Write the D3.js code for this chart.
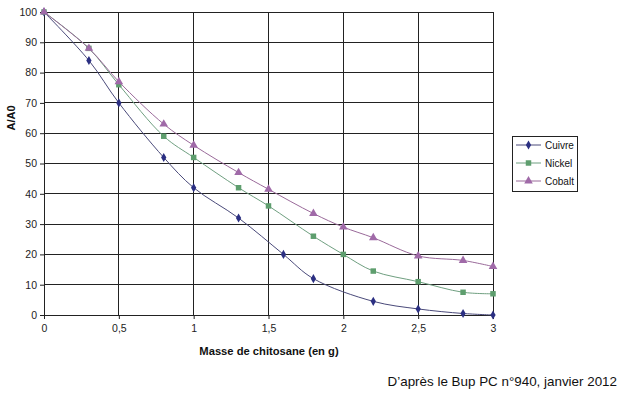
<!DOCTYPE html>
<html><head><meta charset="utf-8">
<script src="https://cdn.jsdelivr.net/npm/d3@7"></script>
<style>body{margin:0;background:#fff;font-family:"Liberation Sans",Arial,sans-serif}</style>
</head><body><svg id="c" width="624" height="393"></svg>
<script>
const xCuivre=[0,0.3,0.5,0.8,1,1.3,1.6,1.8,2.2,2.5,2.8,3];
const yCuivre=[100,84,70,52,42,32,20,12,4.5,2,0.5,0];
const xNickel=[0,0.3,0.5,0.8,1,1.3,1.5,1.8,2,2.2,2.5,2.8,3];
const yNickel=[100,88,76,59,52,42,36,26,20,14.5,11,7.5,7];
const xCobalt=[0,0.3,0.5,0.8,1,1.3,1.5,1.8,2,2.2,2.5,2.8,3];
const yCobalt=[100,88,77,63,56,47,41.5,33.5,29,25.5,19.5,18,16];
const xTicks=[0,0.5,1,1.5,2,2.5,3];
const xTickLabels=["0","0,5","1","1,5","2","2,5","3"];
const yTicks=[0,10,20,30,40,50,60,70,80,90,100];
const seriesNames=["Cuivre","Nickel","Cobalt"];

const svg=d3.select("#c");
const L=44,R=493,T=12,B=315;
const x=d3.scaleLinear().domain([0,3]).range([L,R]);
const y=d3.scaleLinear().domain([0,100]).range([B,T]);

// grid
svg.append("g").selectAll("line").data(yTicks).join("line")
 .attr("x1",L).attr("x2",R).attr("y1",d=>y(d)).attr("y2",d=>y(d))
 .attr("stroke","#222").attr("stroke-width",1).attr("shape-rendering","crispEdges");
svg.append("g").selectAll("line").data(xTicks).join("line")
 .attr("y1",T).attr("y2",B).attr("x1",d=>x(d)).attr("x2",d=>x(d))
 .attr("stroke","#222").attr("stroke-width",1).attr("shape-rendering","crispEdges");

const ax=svg.append("g").attr("transform",`translate(0,${B})`)
 .call(d3.axisBottom(x).tickValues(xTicks).tickFormat((d,i)=>xTickLabels[i]).tickSize(4).tickPadding(6));
const ay=svg.append("g").attr("transform",`translate(${L},0)`)
 .call(d3.axisLeft(y).tickValues(yTicks).tickSize(4).tickPadding(3));
[ax,ay].forEach(a=>{a.select(".domain").attr("stroke","#222");a.selectAll(".tick line").attr("stroke","#222");
 a.selectAll("text").attr("font-family","Liberation Sans, Arial, sans-serif").attr("font-size",10.5).attr("fill","#222");});

const series=[
 {name:seriesNames[0],xs:xCuivre,ys:yCuivre,line:"#4a4a7a",fill:"#2b2f82",shape:d3.symbolDiamond,size:24},
 {name:seriesNames[1],xs:xNickel,ys:yNickel,line:"#6f9f80",fill:"#5e9e6e",shape:d3.symbolSquare,size:30},
 {name:seriesNames[2],xs:xCobalt,ys:yCobalt,line:"#9a6a9a",fill:"#a06aa8",shape:d3.symbolTriangle,size:32}
];
const line=d3.line().x(d=>x(d[0])).y(d=>y(d[1])).curve(d3.curveCatmullRom.alpha(0.5));
series.forEach(s=>{
 const pts=s.xs.map((v,i)=>[v,s.ys[i]]);
 svg.append("path").datum(pts).attr("d",line).attr("fill","none").attr("stroke",s.line).attr("stroke-width",1);
 svg.append("g").selectAll("path").data(pts).join("path")
  .attr("d",d3.symbol().type(s.shape).size(s.size))
  .attr("transform",d=>`translate(${x(d[0])},${y(d[1])})`).attr("fill",s.fill);
});

// legend
const lg=svg.append("g");
lg.append("rect").attr("x",512.5).attr("y",136.5).attr("width",65).attr("height",55).attr("fill","#fff").attr("stroke","#222");
series.forEach((s,i)=>{
 const yy=145+i*18;
 lg.append("line").attr("x1",516).attr("x2",541).attr("y1",yy).attr("y2",yy).attr("stroke",s.line);
 lg.append("path").attr("d",d3.symbol().type(s.shape).size(s.size)).attr("transform",`translate(528.5,${yy})`).attr("fill",s.fill);
 lg.append("text").attr("x",545).attr("y",yy+4).attr("font-size",10).attr("fill","#111").text(s.name);
});

svg.append("text").attr("transform","translate(15,118) rotate(-90)").attr("text-anchor","middle")
 .attr("font-size",11).attr("font-weight","bold").attr("fill","#111").text("A/A0");
svg.append("text").attr("x",269).attr("y",355).attr("text-anchor","middle")
 .attr("font-size",11.2).attr("font-weight","bold").attr("fill","#111").text("Masse de chitosane (en g)");
svg.append("text").attr("x",617).attr("y",386).attr("text-anchor","end")
 .attr("font-size",13.4).attr("fill","#111").text("D’après le Bup PC n°940, janvier 2012");
</script></body></html>
